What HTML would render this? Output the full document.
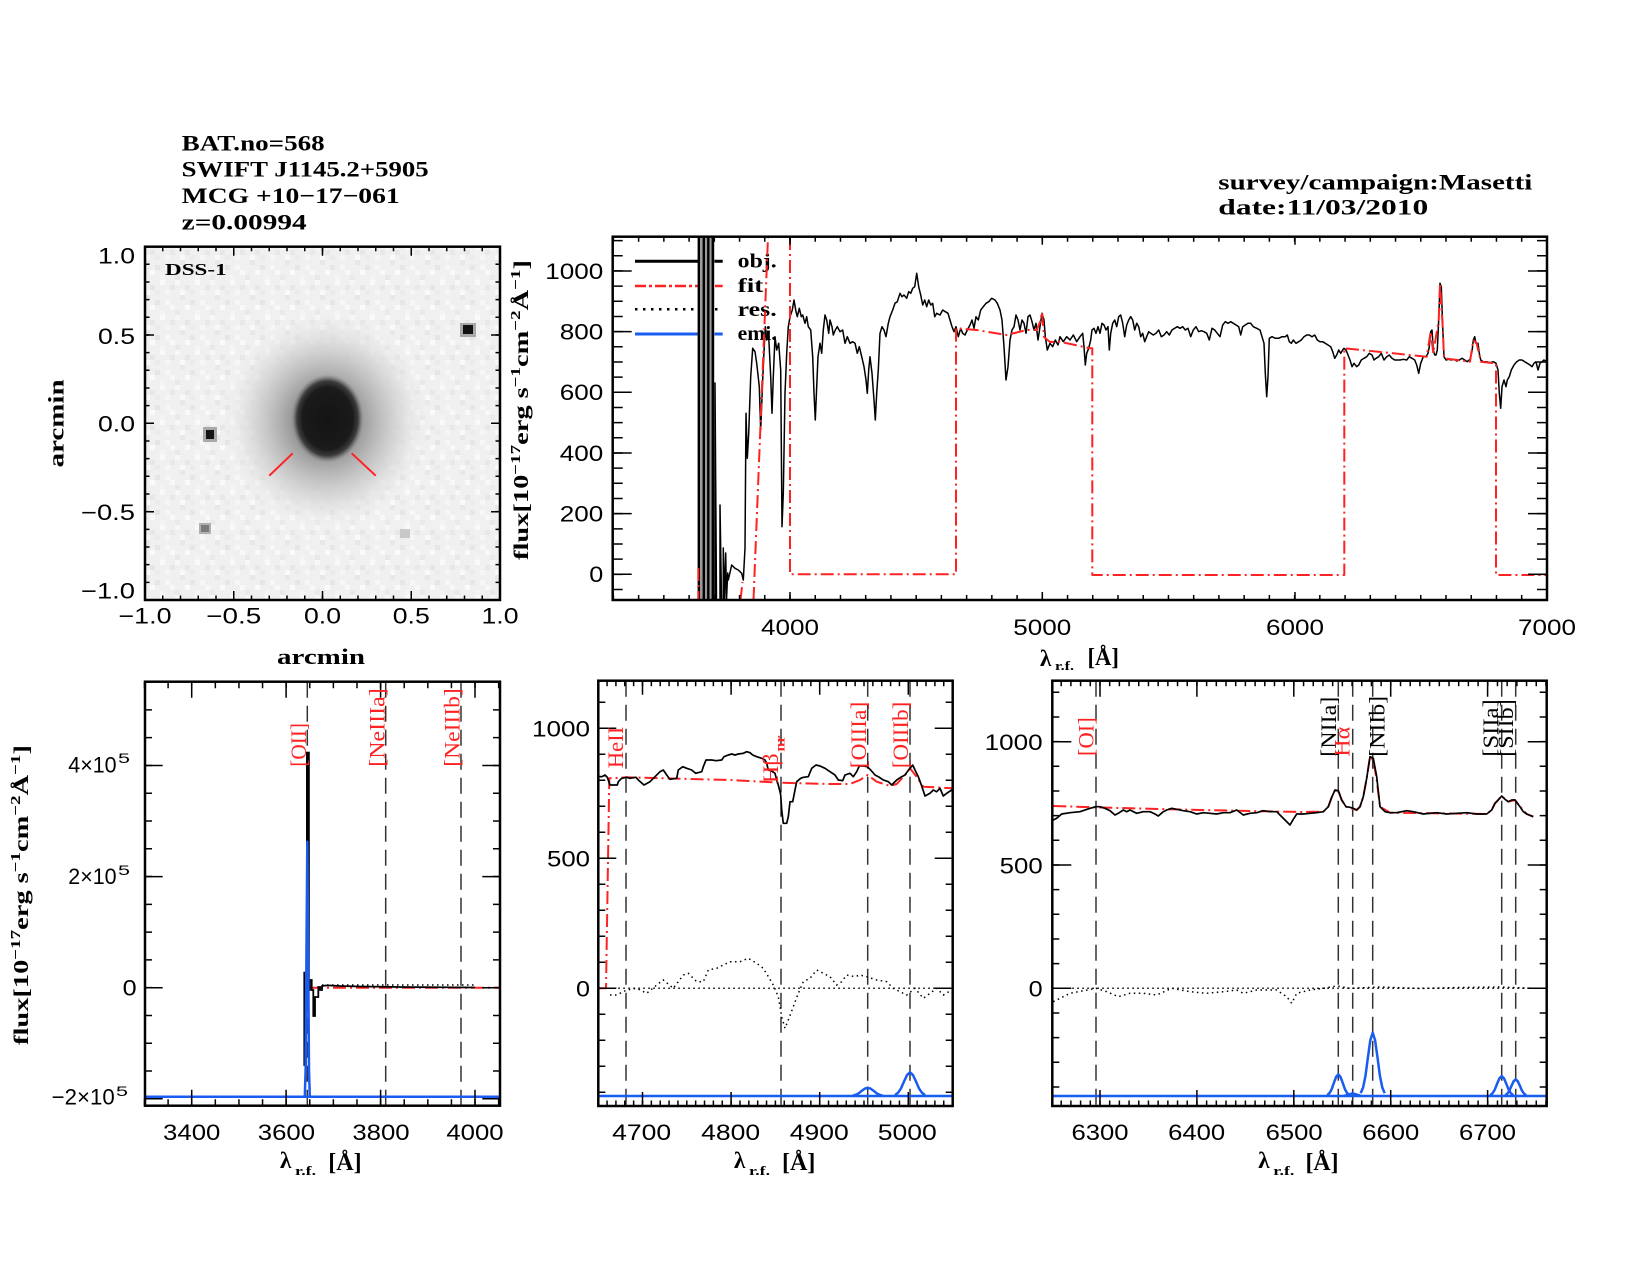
<!DOCTYPE html>
<html><head><meta charset="utf-8"><style>
html,body{margin:0;padding:0;background:#fff;overflow:hidden}
svg{display:block}
.s{font-family:"Liberation Sans",sans-serif;font-size:22px;fill:#000}
.t{font-family:"Liberation Serif",serif;font-weight:bold;font-size:22px;fill:#000}
.e{font-family:"Liberation Serif",serif;font-size:22px}
</style></head><body>
<svg xmlns="http://www.w3.org/2000/svg" width="1650" height="1275" viewBox="0 0 1650 1275">
<defs>
<clipPath id="cTop"><rect x="612.7" y="236.7" width="934.3" height="363.3"/></clipPath>
<clipPath id="cImg"><rect x="145" y="246.7" width="355" height="353.3"/></clipPath>
<clipPath id="cBL"><rect x="145" y="681.7" width="355" height="424"/></clipPath>
<clipPath id="cBM"><rect x="598.3" y="680.7" width="354.4" height="425.3"/></clipPath>
<clipPath id="cBR"><rect x="1052.3" y="680.7" width="494.4" height="425.3"/></clipPath>
<pattern id="noise" width="35" height="35" patternUnits="userSpaceOnUse">
<rect width="35" height="35" fill="#f0f0f0"/>
<rect x="0" y="0" width="5" height="5" fill="#f7f7f7"/><rect x="10" y="5" width="5" height="5" fill="#e7e7e7"/>
<rect x="20" y="0" width="5" height="5" fill="#f9f9f9"/><rect x="5" y="15" width="5" height="5" fill="#e8e8e8"/>
<rect x="25" y="10" width="5" height="5" fill="#f6f6f6"/><rect x="15" y="20" width="5" height="5" fill="#e6e6e6"/>
<rect x="30" y="25" width="5" height="5" fill="#f8f8f8"/><rect x="0" y="30" width="5" height="5" fill="#e9e9e9"/>
<rect x="20" y="30" width="5" height="5" fill="#f4f4f4"/><rect x="10" y="25" width="5" height="5" fill="#fafafa"/>
<rect x="30" y="5" width="5" height="5" fill="#e8e8e8"/><rect x="5" y="10" width="5" height="5" fill="#f9f9f9"/>
<rect x="15" y="10" width="5" height="5" fill="#ebebeb"/><rect x="25" y="20" width="5" height="5" fill="#f7f7f7"/>
</pattern>
<radialGradient id="halo" cx="50%" cy="50%" r="50%">
<stop offset="0" stop-color="#666"/><stop offset="0.25" stop-color="#8a8a8a"/>
<stop offset="0.45" stop-color="#b2b2b2"/><stop offset="0.7" stop-color="#d4d4d4" stop-opacity="0.8"/>
<stop offset="1" stop-color="#eeeeee" stop-opacity="0"/></radialGradient>
<radialGradient id="core" cx="50%" cy="50%" r="50%">
<stop offset="0" stop-color="#141414"/><stop offset="0.7" stop-color="#1a1a1a"/>
<stop offset="0.85" stop-color="#3c3c3c"/><stop offset="1" stop-color="#777" stop-opacity="0"/></radialGradient>
</defs>
<rect width="1650" height="1275" fill="#fff"/>

<!-- Titles -->
<text class="t" x="181.7" y="150.5" textLength="143" lengthAdjust="spacingAndGlyphs">BAT.no=568</text>
<text class="t" x="181.7" y="176.5" textLength="247" lengthAdjust="spacingAndGlyphs">SWIFT J1145.2+5905</text>
<text class="t" x="181.7" y="203" textLength="218" lengthAdjust="spacingAndGlyphs">MCG +10−17−061</text>
<text class="t" x="181.7" y="229.5" textLength="125" lengthAdjust="spacingAndGlyphs">z=0.00994</text>
<text class="t" x="1218.3" y="189.3" textLength="314" lengthAdjust="spacingAndGlyphs">survey/campaign:Masetti</text>
<text class="t" x="1218.3" y="214.3" textLength="210" lengthAdjust="spacingAndGlyphs">date:11/03/2010</text>

<!-- ============ IMAGE PANEL ============ -->
<g clip-path="url(#cImg)">
<rect x="145" y="246.7" width="355" height="353.3" fill="url(#noise)"/>
<ellipse cx="326" cy="421" rx="105" ry="110" fill="url(#halo)"/>
<ellipse cx="327.5" cy="418.5" rx="36" ry="44" fill="url(#core)"/>
<rect x="203" y="427" width="14" height="15" fill="#a8a8a8"/><rect x="206" y="430" width="8" height="9" fill="#151515"/>
<rect x="460" y="323" width="16" height="14" fill="#a8a8a8"/><rect x="463" y="325" width="10" height="9" fill="#121212"/>
<rect x="199" y="523" width="12" height="11" fill="#b0b0b0"/><rect x="201" y="525" width="8" height="7" fill="#7a7a7a"/>
<rect x="400" y="529" width="10" height="9" fill="#c8c8c8"/>
<line x1="269.3" y1="475.7" x2="292.7" y2="453.3" stroke="#ff2222" stroke-width="2"/>
<line x1="351.7" y1="453.3" x2="375.7" y2="475.7" stroke="#ff2222" stroke-width="2"/>
</g>
<text class="t" x="165" y="275" textLength="61.7" lengthAdjust="spacingAndGlyphs" style="font-size:17px">DSS-1</text>
<g stroke="#000" fill="none">
<line x1="144.25" y1="248.95" x2="501" y2="248.95" stroke-width="4.5" stroke-dasharray="1.5 16.25"/>
<line x1="144.25" y1="597.75" x2="501" y2="597.75" stroke-width="4.5" stroke-dasharray="1.5 16.25"/>
<line x1="147.25" y1="600.75" x2="147.25" y2="246" stroke-width="4.5" stroke-dasharray="1.5 16.17"/>
<line x1="497.75" y1="600.75" x2="497.75" y2="246" stroke-width="4.5" stroke-dasharray="1.5 16.17"/>
<path d="M233.75,246.7v9M322.5,246.7v9M411.25,246.7v9M233.75,600v-9M322.5,600v-9M411.25,600v-9M145,335h9M145,423.3h9M145,511.7h9M500,335h-9M500,423.3h-9M500,511.7h-9" stroke-width="1.5"/>
<rect x="145" y="246.7" width="355" height="353.3" stroke-width="2.5"/>
</g>
<g class="s">
<text x="135" y="263.3" text-anchor="end" textLength="37" lengthAdjust="spacingAndGlyphs">1.0</text>
<text x="135" y="344" text-anchor="end" textLength="37" lengthAdjust="spacingAndGlyphs">0.5</text>
<text x="135" y="431.7" text-anchor="end" textLength="37" lengthAdjust="spacingAndGlyphs">0.0</text>
<text x="135" y="520" text-anchor="end" textLength="54" lengthAdjust="spacingAndGlyphs">−0.5</text>
<text x="135" y="598.3" text-anchor="end" textLength="54" lengthAdjust="spacingAndGlyphs">−1.0</text>
<text x="145" y="623.3" text-anchor="middle" textLength="53" lengthAdjust="spacingAndGlyphs">−1.0</text>
<text x="233.75" y="623.3" text-anchor="middle" textLength="55" lengthAdjust="spacingAndGlyphs">−0.5</text>
<text x="322.5" y="623.3" text-anchor="middle" textLength="37" lengthAdjust="spacingAndGlyphs">0.0</text>
<text x="411.25" y="623.3" text-anchor="middle" textLength="37" lengthAdjust="spacingAndGlyphs">0.5</text>
<text x="500" y="623.3" text-anchor="middle" textLength="37" lengthAdjust="spacingAndGlyphs">1.0</text>
</g>
<text class="t" x="321" y="664" text-anchor="middle" textLength="88" lengthAdjust="spacingAndGlyphs">arcmin</text>
<text class="t" transform="translate(63.3,423.4) rotate(-90)" x="0" y="0" text-anchor="middle" textLength="88" lengthAdjust="spacingAndGlyphs">arcmin</text>

<!-- ============ TOP SPECTRUM PANEL ============ -->
<line x1="635" y1="261.3" x2="722.7" y2="261.3" stroke="#000" stroke-width="3"/>
<line x1="635" y1="286" x2="722.7" y2="286" stroke="#ff2222" stroke-width="2.5" stroke-dasharray="11 3 3 3"/>
<line x1="635" y1="309.3" x2="722.7" y2="309.3" stroke="#000" stroke-width="2.5" stroke-dasharray="2.5 5.5"/>
<line x1="635" y1="334" x2="722.7" y2="334" stroke="#1a5cf0" stroke-width="3"/>
<g class="t" style="font-size:20px">
<text x="737.7" y="267.7" textLength="39" lengthAdjust="spacingAndGlyphs">obj.</text>
<text x="737.7" y="292" textLength="25.7" lengthAdjust="spacingAndGlyphs">fit</text>
<text x="737.7" y="316" textLength="39" lengthAdjust="spacingAndGlyphs">res.</text>
<text x="737.7" y="340" textLength="39" lengthAdjust="spacingAndGlyphs">emi.</text>
</g>
<g clip-path="url(#cTop)" fill="none">
<rect x="698" y="236" width="16.5" height="365" fill="#9a9a9a"/>
<path d="M698.8,236V601M703.8,236V601M708.3,236V601M712.8,236V601" stroke="#000" stroke-width="2.4"/>
<polyline stroke="#000" stroke-width="1.5" stroke-linejoin="round" points="715,600 715,383 716.5,600 720,600 720,505 721.5,600 723.3,600 723.3,548 724.5,600 725.7,553 726.5,600 727.7,573 728.3,580 731.7,565 735,568.3 738.3,570 741.7,573.3 743.3,580 745,548.3 746,413.3 747.3,458.3 748.7,433.3 750.7,376.7 752.7,348.3 755,351.7 756.7,363.3 759.3,386.7 760.7,430 762.7,380 764,351.7 765.3,326.7 766.7,340 768.7,336.7 770.7,376.7 772,413.3 773.3,376.7 775,336.7 776.7,350 778.7,343.3 780.7,370 782,526.7 783.3,493.3 785,393.3 786.7,353.3 788.3,326.7 790,316.7 792.3,310 794,300 796,311.7 797.3,316.7 799.3,308.3 801.3,316.7 802.7,315 805,323.3 806.7,316.7 808.3,326.7 810.7,330 812.7,356.7 814,393.3 815.3,420 816.7,386.7 818,356.7 820,343.3 821.7,353.3 823.3,330 825,315 826.7,320 828.7,333.3 830,320 832,326.7 833.3,335 835.3,330 837.3,326.7 840,331.7 842.7,330 845,343.3 847.3,336.7 850,343.3 852.7,341.7 855,343.3 857.3,353.3 859.3,346.7 861.7,356.7 864,366.7 866,380 867.3,393.3 868.7,370 870,356.7 872,373.3 874,400 875.3,420 876.7,393.3 878.3,370 880,333.3 882,326.7 884,330 886,336.7 888.3,323.3 890,316.7 892.7,310 895,303.3 897.3,301.7 900,293.3 902,296.7 904,295 906.7,298.3 908.7,291.7 910.7,293.3 912.7,288.3 914.7,286.7 916.7,273.3 918.7,286.7 920.7,295 922.7,305 924.7,300 926.7,306.7 928.7,300 930.7,305 932.7,303.3 934.7,316.7 936.7,313.3 940,315 942.7,310 945.3,311.7 948,313.3 950,320 952,326.7 954,331.7 956,326.7 958.3,336.7 960.7,328.3 962.7,333.3 965,335 967.3,330 970,325 972,320 974,328.3 976,316.7 978.3,320 980.7,310 983.3,306.7 986,303.3 988.7,301.7 991.7,298.3 995,300 997.3,303.3 1000,310 1002,320 1004,346.7 1006,380 1008,366.7 1010,340 1012,330 1014,326.7 1016,315 1018,320 1020,330 1022,320 1024,323.3 1026,333.3 1028,316.7 1030,315 1032,321.7 1034,330 1036,323.3 1038,340 1040,326.7 1042,313.3 1044,320 1045.3,336.7 1047.3,350 1050,343.3 1052.7,346.7 1055.3,340 1058,345 1060,336.7 1063.3,341.7 1066.7,336.7 1070,340 1073.3,335 1076.7,341.7 1080,336.7 1082.7,333.3 1084,346.7 1085.3,365 1086.7,353.3 1088.7,348.3 1090.7,340 1092,330 1094,328.3 1096,333.3 1098,326.7 1100,333.3 1102,323.3 1104,325 1106,330 1108,326.7 1109.3,350 1110.7,333.3 1112.7,323.3 1114.7,320 1116.7,326.7 1118.7,316.7 1120.7,315 1122.7,323.3 1124.7,336.7 1126.7,325 1128.7,320 1130.7,316.7 1132.7,320 1134.7,330 1136.7,323.3 1138.7,326.7 1140.7,336.7 1142.7,333.3 1144.7,341.7 1146.7,336.7 1148.7,331.7 1150.7,333.3 1153.3,335 1156,333.3 1158.7,330 1161.3,336.7 1164,335 1166.7,331.7 1169.3,335 1172,330 1174.7,328.3 1177.3,326.7 1180,328.3 1182.7,326.7 1185.3,330 1188,328.3 1190.7,336.7 1193.3,330 1196,326.7 1198.7,331.7 1201.3,330.7 1204,331.7 1206.7,333.3 1209.3,340 1212,328.3 1214.7,330 1217.3,333.3 1220,336.7 1222.7,325 1225.3,321.7 1228,323.3 1230.7,321.7 1233.3,323.3 1236,325 1238.7,326.7 1240.7,335 1242.7,326.7 1245.3,325 1248,323.3 1250.7,323.3 1253.3,326.7 1256.7,328.3 1260,330 1262,336.7 1264,343.3 1265.3,373.3 1266.7,396.7 1268,376.7 1269.3,338.3 1272,336.7 1275.3,338.3 1278.7,338.3 1282,336.7 1285.3,336.7 1287.3,335 1289.3,341.7 1291.3,343.3 1293.3,340 1296,343.3 1298.7,341.7 1301.3,340 1304,336.7 1306.7,335 1309.3,335 1312,336.7 1314.7,335 1317.3,340 1320,341.7 1322.7,341.7 1325.3,343.3 1328,345 1330.7,346.7 1332.7,351.7 1334.7,358.3 1336.7,355 1338.7,350 1340.7,353.3 1342.7,350 1344,348.3 1346,350 1348,355 1350,360 1352,366.7 1354,363.3 1356.7,366.7 1358.7,365 1361.3,360 1364,358.3 1366.7,356.7 1369.3,353.3 1372,355 1374,360 1376,358.3 1378.7,356.7 1381.3,353.3 1384,360 1386.7,356.7 1389.3,355 1392,358.3 1394.7,360 1397.3,360 1400,360 1403.3,359.3 1406.7,360 1409.3,356.7 1412,358.3 1414.7,360 1416.7,365 1418.7,373.3 1420.7,363.3 1423.3,356.7 1426,356.7 1428,353.3 1429.3,346.7 1430.7,331.7 1432,330 1433.3,350 1434.7,355 1436,355 1437.3,350 1438.7,320 1440,283.3 1441.3,286.7 1442.7,326.7 1444,356.7 1446,360 1448.7,359.3 1451.3,360 1454,359.3 1456.7,361 1459.3,360 1462,358.3 1464.7,360 1467.3,361.7 1470,359.3 1472,351.7 1473.3,340 1474.7,336.7 1476,343.3 1478,343.3 1479.3,353.3 1480.7,360 1483.3,361.7 1486.7,361.7 1490,362.7 1493.3,361.7 1496,363.3 1498,370 1499.3,393.3 1500.7,408.3 1502,386.7 1504,380 1506,386.7 1507.3,380 1509.3,376.7 1511.3,370 1514,365 1516.7,361.7 1519.3,360 1522,360 1524.7,361.7 1527.3,363.3 1530,365 1532,366.7 1534,363.3 1536,361.7 1538,370 1540,363.3 1542,361.7 1544,360 1546.7,361.7"/>
<g stroke="#ff2222" stroke-width="2" stroke-dasharray="13 4 2 4">
<path d="M698.3,568V600"/>
<path d="M740.5,600L742.5,582"/>
<path d="M753.5,600L768,237"/>
<polyline stroke-linejoin="round" points="790,237 790,574.3 956,574.3 956,328.3 976.7,330 1006.7,335 1026.7,330 1036.7,330 1040,322 1042,312 1044,337 1050,342 1060,341.7 1090,348.3 1092.3,348.3 1092.3,575 1344.3,575 1344.3,348.3 1426.7,356.7 1430.7,331.7 1433.3,353.3 1438.7,320 1440,283.3 1442.7,326.7 1444,358.3 1470,361.7 1473.3,340 1476.7,343.3 1480.7,361.7 1495,363.3 1496,363.3 1496,575 1547,575"/>
</g>
</g>
<g stroke="#000" fill="none">
<line x1="612.65" y1="239.2" x2="1548" y2="239.2" stroke-width="5" stroke-dasharray="1.5 23.73"/>
<line x1="612.65" y1="597.5" x2="1548" y2="597.5" stroke-width="5" stroke-dasharray="1.5 23.73"/>
<path d="M790,236.7v8M1042.3,236.7v8M1295,236.7v8M790,600v-8M1042.3,600v-8M1295,600v-8" stroke-width="1.5"/>
<line x1="617.7" y1="590.25" x2="617.7" y2="236" stroke-width="10" stroke-dasharray="1.5 13.67"/>
<line x1="1542" y1="590.25" x2="1542" y2="236" stroke-width="10" stroke-dasharray="1.5 13.67"/>
<path d="M612.7,574.3h19M612.7,513.63h19M612.7,452.97h19M612.7,392.3h19M612.7,331.63h19M612.7,270.97h19M1547,574.3h-19M1547,513.63h-19M1547,452.97h-19M1547,392.3h-19M1547,331.63h-19M1547,270.97h-19" stroke-width="1.5"/>
<rect x="612.7" y="236.7" width="934.3" height="363.3" stroke-width="2.5"/>
</g>
<g class="s">
<text x="603.3" y="278.8" text-anchor="end" textLength="58" lengthAdjust="spacingAndGlyphs">1000</text>
<text x="603.3" y="339.4" text-anchor="end" textLength="43.5" lengthAdjust="spacingAndGlyphs">800</text>
<text x="603.3" y="400.1" text-anchor="end" textLength="43.5" lengthAdjust="spacingAndGlyphs">600</text>
<text x="603.3" y="460.8" text-anchor="end" textLength="43.5" lengthAdjust="spacingAndGlyphs">400</text>
<text x="603.3" y="521.4" text-anchor="end" textLength="43.5" lengthAdjust="spacingAndGlyphs">200</text>
<text x="603.3" y="582.1" text-anchor="end" textLength="14" lengthAdjust="spacingAndGlyphs">0</text>
<text x="790" y="635" text-anchor="middle" textLength="58" lengthAdjust="spacingAndGlyphs">4000</text>
<text x="1042.3" y="635" text-anchor="middle" textLength="58" lengthAdjust="spacingAndGlyphs">5000</text>
<text x="1295" y="635" text-anchor="middle" textLength="58" lengthAdjust="spacingAndGlyphs">6000</text>
<text x="1547" y="635" text-anchor="middle" textLength="58" lengthAdjust="spacingAndGlyphs">7000</text>
</g>
<text class="t" transform="translate(528,560) rotate(-90)" x="0" y="0" textLength="300" lengthAdjust="spacingAndGlyphs" style="font-size:21px">flux[10<tspan dy="-8" style="font-size:14px">−17</tspan><tspan dy="8">erg s</tspan><tspan dy="-8" style="font-size:14px">−1</tspan><tspan dy="8">cm</tspan><tspan dy="-8" style="font-size:14px">−2</tspan><tspan dy="8">Å</tspan><tspan dy="-8" style="font-size:14px">−1</tspan><tspan dy="8">]</tspan></text>
<text class="t" x="1040" y="666" style="font-size:23px">λ</text>
<text class="t" x="1055" y="670" textLength="19" lengthAdjust="spacingAndGlyphs" style="font-size:13px">r.f.</text>
<text class="t" x="1087.5" y="665" textLength="31.5" lengthAdjust="spacingAndGlyphs" style="font-size:24px">[Å]</text>

<!-- ============ BOTTOM LEFT ============ -->
<g clip-path="url(#cBL)" fill="none">
<path d="M307.3,681.7V1106M385.7,681.7V1106M461,681.7V1106" stroke="#333" stroke-width="1.5" stroke-dasharray="16 8"/>
<line x1="310" y1="987.7" x2="500" y2="987.7" stroke="#ff2222" stroke-width="2" stroke-dasharray="13 4 2 4"/>
<line x1="322" y1="985" x2="475" y2="985" stroke="#000" stroke-width="1.5" stroke-dasharray="1.5 3.5"/>
<rect x="306" y="751.7" width="3.8" height="236" fill="#000"/>
<polyline stroke="#000" stroke-width="1.8" points="304.3,971.7 304.3,1065 306,1065 306,990 309.8,990 309.8,980 311.7,980 311.7,990 313.3,990 313.3,1016 315,1016 315,997 318.3,997 318.3,987 320,987 320,990 322,990 322,986 326,985.5 330,985.5 340,986 360,986.5 400,987 475,987.5"/>
<path d="M145,1096.7H500" stroke="#1a5cf0" stroke-width="2.5"/>
<polyline stroke="#1a5cf0" stroke-width="2.5" stroke-linejoin="round" points="304.8,1096.7 305.6,1070 306.4,960 307.3,841.7 308.2,960 309,1070 309.8,1096.7"/>
</g>
<g stroke="#000" fill="none">
<line x1="143.75" y1="684.95" x2="501" y2="684.95" stroke-width="6.5" stroke-dasharray="1.5 22.11"/>
<line x1="143.75" y1="1102.45" x2="501" y2="1102.45" stroke-width="6.5" stroke-dasharray="1.5 22.11"/>
<path d="M191.7,681.7v16M286.1,681.7v16M380.6,681.7v16M475,681.7v16M191.7,1105.7v-16M286.1,1105.7v-16M380.6,1105.7v-16M475,1105.7v-16" stroke-width="1.5"/>
<line x1="148.5" y1="1099.55" x2="148.5" y2="681" stroke-width="7" stroke-dasharray="1.5 26.28"/>
<line x1="496.5" y1="1099.55" x2="496.5" y2="681" stroke-width="7" stroke-dasharray="1.5 26.28"/>
<path d="M145,765.5h17.7M145,876.6h17.7M145,987.7h17.7M145,1098.8h17.7M500,765.5h-17.7M500,876.6h-17.7M500,987.7h-17.7M500,1098.8h-17.7" stroke-width="1.5"/>
<rect x="145" y="681.7" width="355" height="424" stroke-width="2.5"/>
</g>
<g class="s">
<text x="68.3" y="772.3" textLength="48.3" lengthAdjust="spacingAndGlyphs">4×10</text>
<text x="118" y="763" textLength="12" lengthAdjust="spacingAndGlyphs" style="font-size:14px">5</text>
<text x="68.3" y="884" textLength="48.3" lengthAdjust="spacingAndGlyphs">2×10</text>
<text x="118" y="875" textLength="12" lengthAdjust="spacingAndGlyphs" style="font-size:14px">5</text>
<text x="136.7" y="995.7" text-anchor="end" textLength="14" lengthAdjust="spacingAndGlyphs">0</text>
<text x="51.7" y="1104.7" textLength="63" lengthAdjust="spacingAndGlyphs">−2×10</text>
<text x="116" y="1096" textLength="12" lengthAdjust="spacingAndGlyphs" style="font-size:14px">5</text>
<text x="191.7" y="1140" text-anchor="middle" textLength="57.3" lengthAdjust="spacingAndGlyphs">3400</text>
<text x="286.4" y="1140" text-anchor="middle" textLength="57.3" lengthAdjust="spacingAndGlyphs">3600</text>
<text x="381" y="1140" text-anchor="middle" textLength="57.3" lengthAdjust="spacingAndGlyphs">3800</text>
<text x="475" y="1140" text-anchor="middle" textLength="57.3" lengthAdjust="spacingAndGlyphs">4000</text>
</g>
<g class="e" fill="#ff2222">
<text transform="translate(306,766.7) rotate(-90)" textLength="43.7" lengthAdjust="spacingAndGlyphs">[OII]</text>
<text transform="translate(384.5,766.7) rotate(-90)" textLength="78.4" lengthAdjust="spacingAndGlyphs">[NeIIIa]</text>
<text transform="translate(459.5,766.7) rotate(-90)" textLength="78.4" lengthAdjust="spacingAndGlyphs">[NeIIIb]</text>
</g>
<text class="t" transform="translate(28,1045) rotate(-90)" x="0" y="0" textLength="300" lengthAdjust="spacingAndGlyphs" style="font-size:21px">flux[10<tspan dy="-8" style="font-size:14px">−17</tspan><tspan dy="8">erg s</tspan><tspan dy="-8" style="font-size:14px">−1</tspan><tspan dy="8">cm</tspan><tspan dy="-8" style="font-size:14px">−2</tspan><tspan dy="8">Å</tspan><tspan dy="-8" style="font-size:14px">−1</tspan><tspan dy="8">]</tspan></text>
<text class="t" x="280" y="1168" style="font-size:23px">λ</text>
<text class="t" x="295" y="1175" textLength="21" lengthAdjust="spacingAndGlyphs" style="font-size:13px">r.f.</text>
<text class="t" x="328.3" y="1170" textLength="33.4" lengthAdjust="spacingAndGlyphs" style="font-size:24px">[Å]</text>

<!-- ============ BOTTOM MIDDLE ============ -->
<g clip-path="url(#cBM)" fill="none">
<path d="M626,680.7V1106M781,680.7V1106M867.7,680.7V1106M910,680.7V1106" stroke="#333" stroke-width="1.5" stroke-dasharray="16 8"/>
<line x1="598.3" y1="988.3" x2="952.7" y2="988.3" stroke="#000" stroke-width="1.5" stroke-dasharray="1.5 3.5"/>
<polyline stroke="#000" stroke-width="1.5" stroke-dasharray="1.5 3.5" points="610,995 616.7,995 626.7,990 636.7,988.3 646.7,993.3 656.7,985 663.3,980 673.3,988.3 683.3,975 688.3,973.3 696.7,981.7 703.3,981.7 708.3,970 716.7,968.3 723.3,965 730,961.7 740,961.7 748.3,958.3 756.7,963.3 763.3,968.3 773.3,985 778.3,996.7 781.7,1016.7 785,1028.3 788.3,1020 793.3,1006.7 798.3,993.3 803.3,981.7 810,978.3 816.7,970 823.3,973.3 830,976.7 836.7,985 841.7,981.7 846.7,975 855,976.7 860,975 866.7,976.7 876.7,980 886.7,981.7 893.3,988.3 900,991.7 906.7,995 915,988.3 923.3,998.3 930,993.3 936.7,988.3 943.3,995 951.7,990"/>
<polyline stroke="#ff2222" stroke-width="2" stroke-dasharray="13 4 2 4" stroke-linejoin="round" points="598.3,988.3 606,988.3 609.3,778.3 626.7,777.3 663.3,778.3 730,780 780,782.7 830,784 850,784 860,780 867.7,775 876.7,781.7 890,786 896.7,784 905,775 910,768.3 916,776 923.3,786.7 952.7,788.3"/>
<polyline stroke="#000" stroke-width="1.7" stroke-linejoin="round" points="598.3,776.5 601.7,776.7 605,775 607.3,777.3 610,785 617.3,785 618.3,781.7 621.7,778.3 626.7,777.3 630,778.3 636,777.3 638.3,780 644,785 650,781.7 655,776.7 660,771.7 663.3,770 666.7,775 670,779.3 676.7,778.3 678.3,770 682.7,766.7 686.7,768.3 691.7,770 695.7,773.3 701.7,771.7 703.3,766.7 706,760 711.7,760 716,760.7 721.7,760 724,756.7 728.3,755 731.7,754 735,755 738.3,754 743.3,753.3 746.7,751.7 750,752.7 752.7,755 756.7,756.7 761.7,758.3 765,760 766.7,763.3 768.3,770 772.7,771.7 775,773.3 776.7,780 778.3,785 780,791.7 780.7,795 781.7,810 783.3,823.3 786.7,823.3 788.3,816.7 790,801.7 792.7,801.7 795,790 796.7,781.7 800.7,778.3 803.3,777.3 808.3,776.7 811.7,768.3 816,765 820,766 825,768.3 830,771.7 835,775 838.3,780 842.7,780.7 845,775 850,773.3 853.3,776.7 856.7,771.7 859.3,766 863.3,766 867.3,766.7 870.7,770 875,775 879.3,777.3 883.3,780 888.3,781.7 891.7,785 896.7,780 901.7,776.7 905,775 907.3,771.7 910,768.3 912.7,765 915,770 918.3,776.7 921.7,786 925,796 930,793.3 933.3,790 936.7,791.7 940,788.3 943.3,796 946.7,793.3 951.7,790"/>
<path d="M598.3,1096H952.7" stroke="#1a5cf0" stroke-width="2.5"/>
<polyline stroke="#1a5cf0" stroke-width="2.5" stroke-linejoin="round" points="852.7,1095.6 855.7,1094.9 858.7,1093.3 861.7,1090.9 864.7,1088.7 867.7,1087.7 870.7,1088.7 873.7,1090.9 876.7,1093.3 879.7,1094.9 882.7,1095.6"/>
<polyline stroke="#1a5cf0" stroke-width="2.5" stroke-linejoin="round" points="895,1095 898,1092.8 901,1088.4 904,1081.5 907,1075.1 910,1072.3 913,1075.1 916,1081.5 919,1088.4 922,1092.8 925,1095"/>
</g>
<g stroke="#000" fill="none">
<line x1="597.45" y1="683.45" x2="953" y2="683.45" stroke-width="5.5" stroke-dasharray="1.5 7.36"/>
<line x1="597.45" y1="1103.25" x2="953" y2="1103.25" stroke-width="5.5" stroke-dasharray="1.5 7.36"/>
<path d="M642.5,680.7v14M731.1,680.7v14M819.7,680.7v14M908.3,680.7v14M642.5,1106v-14M731.1,1106v-14M819.7,1106v-14M908.3,1106v-14" stroke-width="1.5"/>
<line x1="601.8" y1="1093.05" x2="601.8" y2="680" stroke-width="7" stroke-dasharray="1.5 24.5"/>
<line x1="949.2" y1="1093.05" x2="949.2" y2="680" stroke-width="7" stroke-dasharray="1.5 24.5"/>
<path d="M598.3,728.3h18M598.3,858.3h18M598.3,988.3h18M952.7,728.3h-18M952.7,858.3h-18M952.7,988.3h-18" stroke-width="1.5"/>
<rect x="598.3" y="680.7" width="354.4" height="425.3" stroke-width="2.5"/>
</g>
<g class="s">
<text x="590" y="736.7" text-anchor="end" textLength="58" lengthAdjust="spacingAndGlyphs">1000</text>
<text x="590" y="866.7" text-anchor="end" textLength="43" lengthAdjust="spacingAndGlyphs">500</text>
<text x="590" y="996.7" text-anchor="end" textLength="14" lengthAdjust="spacingAndGlyphs">0</text>
<text x="641.7" y="1140" text-anchor="middle" textLength="59" lengthAdjust="spacingAndGlyphs">4700</text>
<text x="730.7" y="1140" text-anchor="middle" textLength="59" lengthAdjust="spacingAndGlyphs">4800</text>
<text x="819.3" y="1140" text-anchor="middle" textLength="59" lengthAdjust="spacingAndGlyphs">4900</text>
<text x="907.3" y="1140" text-anchor="middle" textLength="59" lengthAdjust="spacingAndGlyphs">5000</text>
</g>
<g class="e" fill="#ff2222">
<text transform="translate(623,768.3) rotate(-90)" textLength="41.6" lengthAdjust="spacingAndGlyphs">HeII</text>
<text transform="translate(778,783.3) rotate(-90)" textLength="30" lengthAdjust="spacingAndGlyphs">Hβ</text>
<text transform="translate(784.5,751.5) rotate(-90)" textLength="16" lengthAdjust="spacingAndGlyphs" style="font-size:14px;font-weight:bold">nr</text>
<text transform="translate(866,768.3) rotate(-90)" textLength="66.6" lengthAdjust="spacingAndGlyphs">[OIIIa]</text>
<text transform="translate(908,768.3) rotate(-90)" textLength="66.6" lengthAdjust="spacingAndGlyphs">[OIIIb]</text>
</g>
<text class="t" x="734" y="1168" style="font-size:23px">λ</text>
<text class="t" x="749" y="1175" textLength="21" lengthAdjust="spacingAndGlyphs" style="font-size:13px">r.f.</text>
<text class="t" x="782" y="1170" textLength="33.4" lengthAdjust="spacingAndGlyphs" style="font-size:24px">[Å]</text>

<!-- ============ BOTTOM RIGHT ============ -->
<g clip-path="url(#cBR)" fill="none">
<path d="M1096,680.7V1106M1338.3,680.7V1106M1352.7,680.7V1106M1372.7,680.7V1106M1501.7,680.7V1106M1515.7,680.7V1106" stroke="#333" stroke-width="1.5" stroke-dasharray="16 8"/>
<line x1="1052.3" y1="988.3" x2="1546.7" y2="988.3" stroke="#000" stroke-width="1.5" stroke-dasharray="1.5 3.5"/>
<polyline stroke="#000" stroke-width="1.5" stroke-dasharray="1.5 3.5" points="1053.3,1001.7 1070,993.3 1096,988.3 1106.7,991.7 1118.3,996.7 1130,993.3 1143.3,993.3 1156.7,995 1171.7,988.3 1190,991.7 1206.7,993.3 1223.3,991.7 1236.7,990 1243.3,993.3 1256.7,990 1276.7,990 1286.7,996.7 1291.7,1003.3 1296.7,993.3 1310,990 1323.3,988.3 1336.7,986 1350,988.3 1380,987 1420,988.5 1460,987.5 1500,987 1533.3,988.3"/>
<polyline stroke="#ff2222" stroke-width="2" stroke-dasharray="13 4 2 4" stroke-linejoin="round" points="1053.3,806 1100,807.5 1200,810 1300,812 1323.3,811.7 1328.3,806.7 1331.7,797.3 1335,790 1338.3,790.7 1341.7,800 1346,806.7 1356.7,810 1360,806.7 1363.3,796.7 1366.7,778.3 1370,756.7 1373.3,760 1376.7,780 1380,806.7 1390,812.7 1486.7,814 1491.7,810 1495,803.3 1501.7,796 1508.3,801.7 1515,800 1520,806.7 1526.7,814 1533.3,816.7"/>
<polyline stroke="#000" stroke-width="1.7" stroke-linejoin="round" points="1053.3,820 1056.7,818.3 1061.7,814 1070,812.7 1080,811.7 1090,808.3 1096,806.7 1100,806.7 1105,808.3 1110,810.7 1115,815 1118.3,813.3 1123.3,810 1126.7,811.7 1130,810 1136.7,813.3 1143.3,811.7 1150,811.7 1155,814 1158.3,816 1163.3,811.7 1166.7,810 1171.7,808.3 1176.7,809.3 1183.3,810.7 1190,811.7 1196.7,814 1203.3,812.7 1210,813.3 1216.7,814 1223.3,812.7 1230,812.7 1236.7,810 1243.3,815 1250,813.3 1256.7,812.7 1263.3,810.7 1270,811.7 1276.7,811.7 1280,815 1285,820 1290,825 1293.3,819.3 1296.7,814 1303.3,814 1310,813.3 1316.7,812.7 1323.3,811.7 1328.3,806.7 1331.7,797.3 1335,790 1338.3,790.7 1341.7,800 1346,806.7 1350,807.3 1353.3,808.3 1356.7,810 1360,806.7 1363.3,796.7 1366.7,778.3 1370,756.7 1373.3,758.3 1376.7,776.7 1380,806.7 1385,811.7 1390,812.7 1396.7,812.7 1406.7,810.7 1413.3,811.7 1423.3,814 1430,813.3 1436.7,812.7 1446.7,814 1456.7,813.3 1466.7,812.7 1476.7,814 1486.7,814 1491.7,810 1495,803.3 1498.3,800 1501.7,796 1505,799.3 1508.3,801.7 1511.7,800 1515,800 1520,806.7 1523.3,811.7 1526.7,814 1533.3,816.7"/>
<path d="M1052.3,1096H1546.7" stroke="#1a5cf0" stroke-width="2.5"/>
<g stroke="#1a5cf0" stroke-width="2.5" stroke-linejoin="round">
<polyline points="1327.3,1095 1329.5,1093.1 1331.7,1089.1 1333.9,1082.8 1336.1,1076.9 1338.3,1074.3 1340.5,1076.9 1342.7,1082.8 1344.9,1089.1 1347.1,1093.1 1349.3,1095"/>
<polyline points="1344,1096 1349,1094.5 1352.7,1093.3 1356.4,1094.5 1361,1096"/>
<polyline points="1360.7,1093.2 1363.1,1087.5 1365.5,1075.7 1367.9,1057.4 1370.3,1040.3 1372.7,1032.7 1375.1,1040.3 1377.5,1057.4 1379.9,1075.7 1382.3,1087.5 1384.7,1093.2"/>
<polyline points="1490.2,1095.1 1492.5,1093.3 1494.8,1089.6 1497.1,1083.8 1499.4,1078.4 1501.7,1076 1504,1078.4 1506.3,1083.8 1508.6,1089.6 1510.9,1093.3 1513.2,1095.1"/>
<polyline points="1505.2,1095.3 1507.3,1093.7 1509.4,1090.7 1511.5,1085.8 1513.6,1081.3 1515.7,1079.3 1517.8,1081.3 1519.9,1085.8 1522,1090.7 1524.1,1093.7 1526.2,1095.3"/>
</g>
</g>
<g stroke="#000" fill="none">
<line x1="1060.45" y1="683.45" x2="1547" y2="683.45" stroke-width="5.5" stroke-dasharray="1.5 8.195"/>
<line x1="1060.45" y1="1103.25" x2="1547" y2="1103.25" stroke-width="5.5" stroke-dasharray="1.5 8.195"/>
<path d="M1100,680.7v16M1196.9,680.7v16M1293.8,680.7v16M1390.7,680.7v16M1487.6,680.7v16M1100,1106v-16M1196.9,1106v-16M1293.8,1106v-16M1390.7,1106v-16M1487.6,1106v-16" stroke-width="1.5"/>
<line x1="1055.8" y1="1087.72" x2="1055.8" y2="680" stroke-width="7" stroke-dasharray="1.5 23.167"/>
<line x1="1543.2" y1="1087.72" x2="1543.2" y2="680" stroke-width="7" stroke-dasharray="1.5 23.167"/>
<path d="M1052.3,741.7h19M1052.3,865h19M1052.3,988.3h19M1546.7,741.7h-19M1546.7,865h-19M1546.7,988.3h-19" stroke-width="1.5"/>
<rect x="1052.3" y="680.7" width="494.4" height="425.3" stroke-width="2.5"/>
</g>
<g class="s">
<text x="1042.7" y="750" text-anchor="end" textLength="58" lengthAdjust="spacingAndGlyphs">1000</text>
<text x="1042.7" y="873.3" text-anchor="end" textLength="43" lengthAdjust="spacingAndGlyphs">500</text>
<text x="1042.7" y="996.7" text-anchor="end" textLength="14" lengthAdjust="spacingAndGlyphs">0</text>
<text x="1100" y="1140" text-anchor="middle" textLength="57" lengthAdjust="spacingAndGlyphs">6300</text>
<text x="1196.7" y="1140" text-anchor="middle" textLength="57" lengthAdjust="spacingAndGlyphs">6400</text>
<text x="1294.2" y="1140" text-anchor="middle" textLength="57" lengthAdjust="spacingAndGlyphs">6500</text>
<text x="1390.8" y="1140" text-anchor="middle" textLength="57" lengthAdjust="spacingAndGlyphs">6600</text>
<text x="1487.5" y="1140" text-anchor="middle" textLength="57" lengthAdjust="spacingAndGlyphs">6700</text>
</g>
<g class="e">
<text fill="#ff2222" transform="translate(1093.5,756) rotate(-90)" textLength="38.7" lengthAdjust="spacingAndGlyphs">[OI]</text>
<text fill="#000" transform="translate(1336,756.7) rotate(-90)" textLength="60" lengthAdjust="spacingAndGlyphs">[NIIa]</text>
<text fill="#ff2222" transform="translate(1349.5,756.7) rotate(-90)" textLength="30" lengthAdjust="spacingAndGlyphs">Hα</text>
<text fill="#000" transform="translate(1384.5,756.7) rotate(-90)" textLength="60.7" lengthAdjust="spacingAndGlyphs">[NIIb]</text>
<text fill="#000" transform="translate(1498,756.7) rotate(-90)" textLength="57.4" lengthAdjust="spacingAndGlyphs">[SIIa]</text>
<text fill="#000" transform="translate(1513,756.7) rotate(-90)" textLength="57.4" lengthAdjust="spacingAndGlyphs">[SIIb]</text>
</g>
<text class="t" x="1258.3" y="1168" style="font-size:23px">λ</text>
<text class="t" x="1273.3" y="1175" textLength="21" lengthAdjust="spacingAndGlyphs" style="font-size:13px">r.f.</text>
<text class="t" x="1305.5" y="1170" textLength="33" lengthAdjust="spacingAndGlyphs" style="font-size:24px">[Å]</text>
</svg>
</body></html>
